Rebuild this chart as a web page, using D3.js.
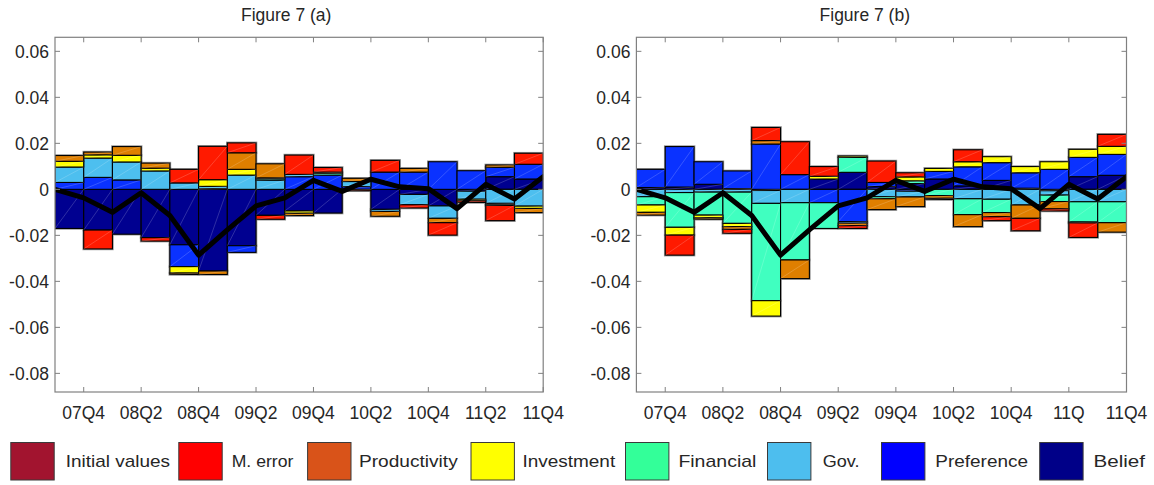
<!DOCTYPE html>
<html>
<head>
<meta charset="utf-8">
<script src="https://cdn.jsdelivr.net/npm/d3@7"></script>
<style>
  body { margin: 0; background: #fff; }
  svg { display: block; }
  text { font-family: "Liberation Sans", Arial, Helvetica, sans-serif; fill: #262626; }
</style>
</head>
<body>
<svg id="chart" width="1154" height="485"></svg>
<script>
// ---- data ---------------------------------------------------------------
// 17 bar periods (07Q4 .. 11Q4); line has 18 points (07Q3 .. 11Q4)
const periods = ["07Q4","08Q1","08Q2","08Q3","08Q4","09Q1","09Q2","09Q3","09Q4",
                 "10Q1","10Q2","10Q3","10Q4","11Q1","11Q2","11Q3","11Q4"];
const tickLabelsA = ["07Q4","08Q2","08Q4","09Q2","09Q4","10Q2","10Q4","11Q2","11Q4"];
const tickLabelsB = ["07Q4","08Q2","08Q4","09Q2","09Q4","10Q2","10Q4","11Q","11Q4"];
const yTicks = [0.06, 0.04, 0.02, 0, -0.02, -0.04, -0.06, -0.08];
const yTickLabels = ["0.06","0.04","0.02","0","-0.02","-0.04","-0.06","-0.08"];

const seriesNames  = ["Initial values","M. error","Productivity","Investment","Financial","Gov.","Preference","Belief"];
const seriesKeys   = ["initial","merror","prod","inv","fin","gov","pref","belief"];
const legendColors = ["#a2142f","#ff0000","#d95319","#ffff00","#33ff99","#4dbeee","#0000ff","#000088"];
const barColors    = ["#a2142f","#ff1a00","#df7f00","#ffff00","#40ffc0","#4dbfef","#0a32ff","#000090"];

// Figure 7 (a) contributions
const aInitial = [0,0,0,0,0,0,0,0,0,0,0,0,0,0,0,0,0];
const aMerror  = [0,-0.0082,0,-0.0015,0.0059,0.0145,0.0043,-0.0017,0.0084,0.0020,-0.0006,0.0051,-0.0014,-0.0054,-0.0007,-0.0066,0.0048];
const aProd    = [0.0025,0.0012,0.0038,0.0022,-0.0006,-0.0015,0.0072,0.0061,-0.0010,0,0.0014,-0.0021,0.0016,-0.0019,0,0.0010,-0.0018];
const aInv     = [0.0025,0.0014,0.0029,0.0012,-0.0028,0.0029,0.0025,0.0004,-0.0010,0.0005,0,0,0,0,-0.0007,-0.0005,-0.0010];
const aFin     = [0,0,0,0,0,0,0,0.0006,0,0.0008,0,0,0,0,0,-0.0004,0];
const aGov     = [0.0067,0.0084,0.0078,0.0080,0.0028,0.0010,0.0062,0.0040,0.0010,0,0.0022,-0.0009,-0.0045,-0.0054,-0.0035,-0.0061,-0.0073];
const aPref    = [0.0030,0.0052,0.0041,0,-0.0095,0.0003,-0.0029,0,0.0055,0.0062,0.0012,0.0075,0.0075,0.0120,0.0081,0.0041,0.0064];
const aBelief  = [-0.0170,-0.0177,-0.0195,-0.0210,-0.0241,-0.0355,-0.0245,-0.0113,-0.0094,-0.0103,0,-0.0087,-0.0022,-0.0072,-0.0008,0.0055,0.0045];

// Figure 7 (b) contributions
const bInitial = [0,0,0,0,0,0,0,0,0,0,0,0,0,0,0,0,0];
const bMerror  = [0,-0.0087,0,-0.0017,0.0057,0.0143,0.0042,-0.0012,0.0093,0.0018,-0.0005,0.0052,-0.0017,-0.0054,-0.0009,-0.0063,0.0052];
const bProd    = [-0.0012,0,-0.0006,-0.0012,0.0015,-0.0081,0,-0.0011,-0.0047,-0.0042,-0.0012,-0.0052,-0.0018,-0.0058,-0.0032,-0.0004,-0.0041];
const bInv     = [-0.0032,-0.0034,-0.0012,-0.0014,-0.0067,0,0.0012,0.0006,0,0.0017,0.0013,0.0022,0.0026,0.0027,0.0033,0.0035,0.0035];
const bFin     = [-0.0036,-0.0151,-0.0100,-0.0136,-0.0423,-0.0249,-0.0112,0.0065,-0.0009,0.0012,-0.0027,-0.0069,-0.0058,0,-0.0028,-0.0088,-0.0091];
const bGov     = [-0.0032,-0.0014,-0.0012,-0.0012,-0.0056,-0.0058,0,-0.0007,-0.0032,-0.0025,0,-0.0041,-0.0043,-0.0068,-0.0019,-0.0054,-0.0054];
const bPref    = [0.0079,0.0176,0.0098,0.0077,0.0197,0.0064,-0.0058,-0.0140,0.0018,-0.0008,0.0033,0.0083,0.0077,0.0067,0.0087,0.0084,0.0091];
const bBelief  = [0.0008,0.0010,0.0022,0.0003,-0.0005,0,0.0045,0.0074,0.0012,0.0025,0.0045,0.0015,0.0039,0.0005,-0.0006,0.0055,0.0061];

// observed series (black line), 18 points
const observed = [0,-0.0037,-0.0100,-0.0015,-0.0114,-0.0286,-0.0176,-0.0072,-0.0037,0.0039,
                  -0.0009,0.0044,0.0011,0.0003,-0.0084,0.0022,-0.0042,0.0055];

// ---- helpers ------------------------------------------------------------
function buildRows(cols) {
  return periods.map((p, i) => {
    const r = { period: p };
    seriesKeys.forEach((k, j) => { r[k] = cols[j][i]; });
    return r;
  });
}

const svg = d3.select("#chart");
const yDomain = [-0.0881, 0.0661];
const plotTop = 37.3, plotBottom = 392;
const colorOf = Object.fromEntries(seriesKeys.map((k, i) => [k, barColors[i]]));

// stacking outward from zero: Belief first, Initial values last
const stackOrder = ["belief","pref","gov","fin","inv","prod","merror","initial"];

function drawPanel(opts) {
  const x = d3.scaleLinear().domain([0, 17]).range([opts.left, opts.right]);
  const y = d3.scaleLinear().domain(yDomain).range([plotBottom, plotTop]);
  const g = svg.append("g");

  const clipId = "clip-" + opts.id;
  svg.append("clipPath").attr("id", clipId)
    .append("rect").attr("x", opts.left).attr("y", plotTop)
    .attr("width", opts.right - opts.left).attr("height", plotBottom - plotTop);

  const stacked = d3.stack().keys(stackOrder).offset(d3.stackOffsetDiverging)(opts.rows);
  const plot = g.append("g").attr("clip-path", `url(#${clipId})`);

  const segs = [];
  stacked.forEach(layer => {
    layer.forEach((d, i) => {
      if (Math.abs(d[1] - d[0]) < 1e-9) return;
      segs.push({ key: layer.key, i, y0: d[0], y1: d[1] });
    });
  });

  // soft grey edge under each segment
  plot.selectAll("rect.halo").data(segs).join("rect")
    .attr("class", "halo")
    .attr("x", d => x(d.i)).attr("width", d => x(d.i + 1) - x(d.i))
    .attr("y", d => y(Math.max(d.y0, d.y1)))
    .attr("height", d => Math.abs(y(d.y0) - y(d.y1)))
    .attr("fill", "none").attr("stroke", "#9a9a9a").attr("stroke-width", 2.6);

  plot.selectAll("rect.seg").data(segs).join("rect")
    .attr("class", "seg")
    .attr("x", d => x(d.i)).attr("width", d => x(d.i + 1) - x(d.i))
    .attr("y", d => y(Math.max(d.y0, d.y1)))
    .attr("height", d => Math.abs(y(d.y0) - y(d.y1)))
    .attr("fill", d => colorOf[d.key])
    .attr("stroke", "#000").attr("stroke-width", 1.1);

  // faint diagonal seams inside each patch
  plot.selectAll("line.seam").data(segs).join("line")
    .attr("class", "seam")
    .attr("x1", d => x(d.i)).attr("y1", d => y(d.y0))
    .attr("x2", d => x(d.i + 1)).attr("y2", d => y(d.y1))
    .attr("stroke", "#fff").attr("stroke-opacity", 0.3).attr("stroke-width", 0.6);

  // observed line
  const line = d3.line().x((d, i) => x(i)).y(d => y(d));
  plot.append("path").datum(observed)
    .attr("d", line).attr("fill", "none")
    .attr("stroke", "#000").attr("stroke-width", 5)
    .attr("stroke-linejoin", "round").attr("stroke-linecap", "round");

  // axes box and inward ticks on all four sides
  const axisColor = "#808080";
  g.append("rect").attr("x", opts.left).attr("y", plotTop)
    .attr("width", opts.right - opts.left).attr("height", plotBottom - plotTop)
    .attr("fill", "none").attr("stroke", axisColor).attr("stroke-width", 1.2);

  const xt = d3.range(1, 18, 2);
  const tl = 5;
  xt.forEach(t => {
    g.append("line").attr("x1", x(t)).attr("x2", x(t)).attr("y1", plotBottom).attr("y2", plotBottom - tl)
      .attr("stroke", axisColor);
    g.append("line").attr("x1", x(t)).attr("x2", x(t)).attr("y1", plotTop).attr("y2", plotTop + tl)
      .attr("stroke", axisColor);
  });
  yTicks.forEach(v => {
    g.append("line").attr("x1", opts.left).attr("x2", opts.left + tl).attr("y1", y(v)).attr("y2", y(v))
      .attr("stroke", axisColor);
    g.append("line").attr("x1", opts.right).attr("x2", opts.right - tl).attr("y1", y(v)).attr("y2", y(v))
      .attr("stroke", axisColor);
  });

  // tick labels
  g.selectAll("text.xl").data(xt).join("text")
    .attr("class", "xl")
    .attr("x", t => x(t)).attr("y", 418.5)
    .attr("text-anchor", "middle").attr("font-size", 17.5)
    .text((t, i) => opts.xLabels[i]);
  g.selectAll("text.yl").data(yTicks).join("text")
    .attr("class", "yl")
    .attr("x", opts.left - 6).attr("y", v => y(v) + 7)
    .attr("text-anchor", "end").attr("font-size", 17.5)
    .text((v, i) => yTickLabels[i]);

  // title
  g.append("text").attr("x", opts.titleX).attr("y", 20.7)
    .attr("text-anchor", "middle").attr("font-size", 17.5)
    .text(opts.title);
}

drawPanel({
  id: "a", left: 55, right: 543.2, titleX: 286.2, title: "Figure 7 (a)",
  xLabels: tickLabelsA,
  rows: buildRows([aInitial, aMerror, aProd, aInv, aFin, aGov, aPref, aBelief])
});
drawPanel({
  id: "b", left: 636.4, right: 1126.5, titleX: 864.8, title: "Figure 7 (b)",
  xLabels: tickLabelsB,
  rows: buildRows([bInitial, bMerror, bProd, bInv, bFin, bGov, bPref, bBelief])
});

// ---- legend -------------------------------------------------------------
const legendBoxX  = [10.8, 178.8, 307.6, 471, 625.5, 767.5, 881.5, 1039.7];
const legendTextX = [65.7, 231.7, 359, 522.4, 678.4, 822.7, 935.3, 1093.5];
const legendTextW = [104.3, 61.6, 98.7, 92.8, 78, 36.8, 92.7, 51.5];
const leg = svg.append("g");
seriesNames.forEach((name, i) => {
  leg.append("rect")
    .attr("x", legendBoxX[i]).attr("y", 442.5)
    .attr("width", 43.4).attr("height", 37.5)
    .attr("fill", legendColors[i]).attr("stroke", "#3a3a3a").attr("stroke-width", 1);
  leg.append("text")
    .attr("x", legendTextX[i]).attr("y", 466.7)
    .attr("font-size", 17)
    .attr("textLength", legendTextW[i]).attr("lengthAdjust", "spacingAndGlyphs")
    .text(name);
});
</script>
</body>
</html>
